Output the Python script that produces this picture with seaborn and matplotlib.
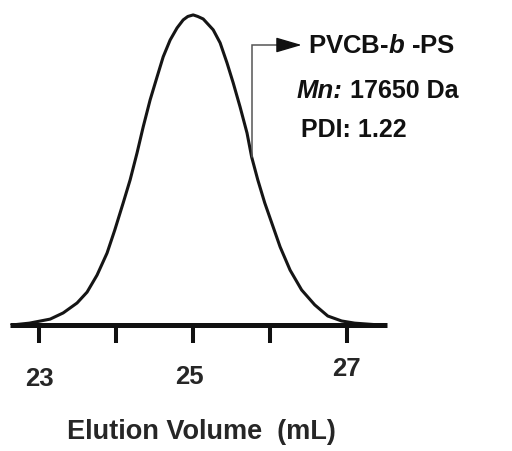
import matplotlib
matplotlib.use("Agg")
import matplotlib.pyplot as plt
import matplotlib.transforms as mtransforms
import seaborn as sns
import pandas as pd

# GPC trace of the block copolymer (normalised RI signal vs elution volume)
elution_ml = [22.64, 22.87, 23.14, 23.31, 23.49, 23.62, 23.75, 23.88, 23.98, 24.09,
              24.18, 24.27, 24.35, 24.44, 24.53, 24.61, 24.70, 24.79, 24.87, 24.93,
              25.00, 25.06, 25.13, 25.26, 25.35, 25.44, 25.52, 25.61, 25.70, 25.76,
              25.84, 25.93, 26.04, 26.13, 26.26, 26.41, 26.58, 26.75, 26.93, 27.10,
              27.43]
signal = [0.000, 0.006, 0.019, 0.039, 0.071, 0.106, 0.161, 0.232, 0.306, 0.394,
          0.468, 0.555, 0.639, 0.726, 0.800, 0.865, 0.919, 0.958, 0.984, 0.995,
          1.000, 0.995, 0.987, 0.952, 0.910, 0.845, 0.781, 0.703, 0.619, 0.542,
          0.468, 0.394, 0.316, 0.252, 0.177, 0.113, 0.065, 0.029, 0.013, 0.006,
          0.000]

major_ticks = [23, 25, 27]
minor_ticks = [24, 26]
tick_labels = ["23", "25", "27"]

sample_name = r"PVCB-$\mathit{b}$ -PS"
mn_label = "Mn:"
mn_value = " 17650 Da"
pdi_text = "PDI: 1.22"
x_label = "Elution Volume  (mL)"

# annotation pointer: starts on the curve, rises, then points right
pointer_x = 25.76
pointer_y0 = 0.542
pointer_y1 = 0.903
pointer_bend_end = 26.13
pointer_tip = 26.41

sns.set_style("white")
plt.rcParams["font.family"] = ["Liberation Sans", "DejaVu Sans"]
plt.rcParams["font.weight"] = "bold"
plt.rcParams["mathtext.fontset"] = "custom"
plt.rcParams["mathtext.rm"] = "Liberation Sans:bold"
plt.rcParams["mathtext.it"] = "Liberation Sans:bold:italic"
plt.rcParams["mathtext.bf"] = "Liberation Sans:bold"

fig = plt.figure(figsize=(5.12, 4.51), dpi=100)
ax = fig.add_axes([10 / 512, 126 / 451, 377 / 512, 320 / 451])

df = pd.DataFrame({"volume": elution_ml, "signal": signal})
sns.lineplot(data=df, x="volume", y="signal", ax=ax, color="#151515",
             linewidth=2.2, sort=False, estimator=None)

ax.set_xlim(22.618, 27.52)
ax.set_ylim(0, 1.032)

for side in ("left", "top", "right"):
    ax.spines[side].set_visible(False)
ax.spines["bottom"].set_linewidth(3.6)
ax.spines["bottom"].set_color("#111111")
ax.spines["bottom"].set_capstyle("butt")

ax.set_yticks([])
ax.set_xticks(major_ticks)
ax.set_xticks(minor_ticks, minor=True)
ax.set_xticklabels(tick_labels)
ax.tick_params(axis="x", which="both", direction="out", length=13, width=2.9,
               color="#111111", bottom=True)
ax.tick_params(axis="x", which="major", labelsize=18.5, pad=14)
ax.tick_params(axis="x", which="minor", labelbottom=False)

# small individual shifts of the tick labels (in pixels)
label_shift = [(0, -4), (-4, -2), (-1, 6)]
for lab, (dx, dy) in zip(ax.get_xticklabels(), label_shift):
    lab.set_fontweight("bold")
    off = mtransforms.ScaledTranslation(dx / 100, dy / 100, fig.dpi_scale_trans)
    lab.set_transform(lab.get_transform() + off)

ax.set_xlabel(x_label, fontsize=19.5, fontweight="bold")
ax.xaxis.set_label_coords((201 - 10) / 377, -(432 - 325) / 320)
ax.xaxis.label.set_va("center")
ax.set_ylabel("")

# pointer line and arrow head
ax.plot([pointer_x, pointer_x, pointer_bend_end],
        [pointer_y0, pointer_y1, pointer_y1],
        color="#555555", linewidth=1.1, solid_joinstyle="miter")
ax.annotate("", xy=(pointer_tip, pointer_y1), xytext=(pointer_bend_end, pointer_y1),
            arrowprops=dict(arrowstyle="-|>,head_length=1.6,head_width=0.47",
                            color="#111111", shrinkA=0, shrinkB=0, lw=1.0))

ax.text((308 - 10) / 377, (325 - 46.5) / 320, sample_name, transform=ax.transAxes,
        fontsize=18.5, fontweight="bold", va="center", ha="left", color="#111111")
mn = ax.text((297 - 10) / 377, (325 - 103) / 320, mn_label, transform=ax.transAxes,
             fontsize=18.5, fontweight="bold", fontstyle="italic",
             va="bottom", ha="left", color="#111111")
ax.annotate(mn_value, xy=(1, 0), xycoords=mn, fontsize=18, fontweight="bold",
            va="bottom", ha="left", color="#111111")
ax.text((301 - 10) / 377, (325 - 130) / 320, pdi_text, transform=ax.transAxes,
        fontsize=18, fontweight="bold", va="center", ha="left", color="#111111")

fig.savefig("out.png", dpi=100)
